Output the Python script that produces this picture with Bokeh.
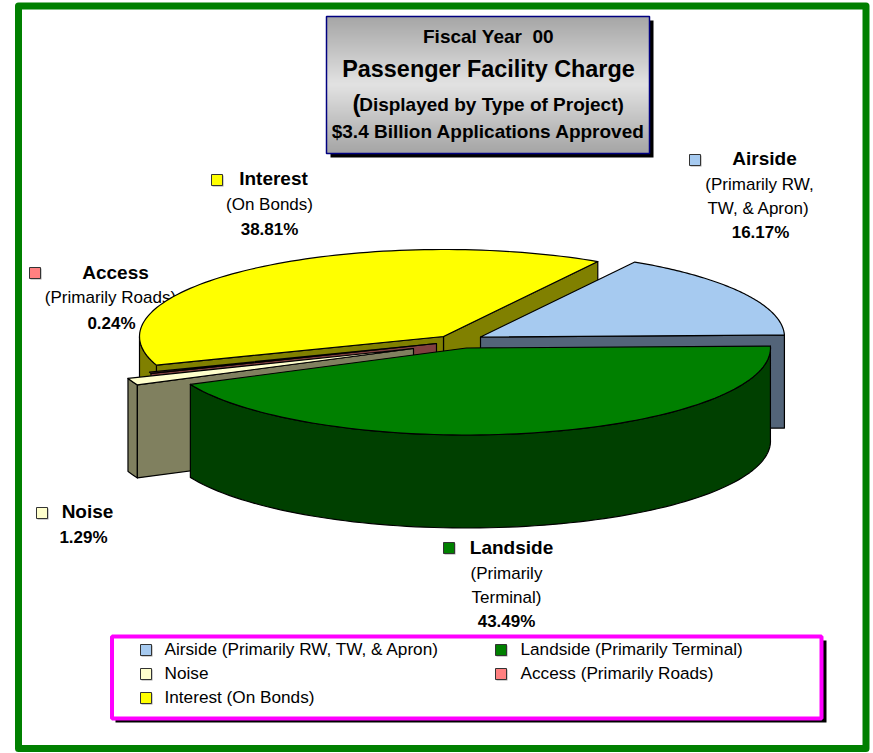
import math
from bokeh.plotting import figure
from bokeh.models import Range1d
from bokeh.core.properties import value
from bokeh.embed import file_html
from bokeh.resources import INLINE

# ---- data ----
categories = ["Airside", "Landside", "Noise", "Access", "Interest"]
notes = ["(Primarily RW, TW, & Apron)", "(Primarily Terminal)", "", "(Primarily Roads)", "(On Bonds)"]
shares = [16.17, 43.49, 1.29, 0.24, 38.81]
title_lines = ["Fiscal Year \u00a000", "Passenger Facility Charge",
               "Displayed by Type of Project)", "$3.4 Billion Applications Approved"]

# ---- style / layout ----
TOP = ["#A6CAF0", "#008000", "#FFFFCC", "#FF8080", "#FFFF00"]
WALL = ["#536479", "#004000", "#80805F", "#804040", "#808000"]
APEX = [(480, 336.5), (466, 347.5), (413, 348), (436, 343), (443, 336)]
RX, RY, DEPTH = 304, 87, 93
FIRST_ANGLE = 59.5
FONT = value("Liberation Sans")

p = figure(width=873, height=753, x_range=Range1d(0, 873), y_range=Range1d(753, 0),
           output_backend="svg", toolbar_location=None, min_border=0,
           background_fill_color="white",
           border_fill_color="white", outline_line_color=None)
p.axis.visible = False
p.xgrid.visible = False
p.ygrid.visible = False


def txt(x, y, s, size, bold=False, align="center", color="black"):
    p.text([x], [y - 0.8], text=[s], text_font=FONT, text_font_size=f"{size}px",
           text_font_style="bold" if bold else "normal", text_align=align,
           text_baseline="middle", text_color=color)


def box(l, t, r, b, fill, line=None, lw=1):
    p.quad(left=[l], right=[r], top=[t], bottom=[b], fill_color=fill,
           line_color=line, line_width=lw)


# outer frame
p.patch([18, 865.5, 865.5, 18], [5.5, 5.5, 748, 748], fill_color=None,
        line_color="#008000", line_width=7, line_join="round")


def key(l, t, i):
    box(l + 1, t + 1, l + 12, t + 12, "#a0a0a0")
    box(l, t, l + 11, t + 11, TOP[i], "#333333", 1)


pct = [f"{v:.2f}%" for v in shares]

# callout labels (drawn under the pie)
key(689, 154, 0)
txt(764, 159, categories[0], 19, True)
txt(759, 185, "(Primarily RW,", 17)
txt(758, 209, "TW, & Apron)", 17)
txt(760, 233, pct[0], 17, True)

key(443, 542, 1)
txt(511, 548, categories[1], 19, True)
txt(506, 574, "(Primarily", 17)
txt(506, 598, "Terminal)", 17)
txt(506, 622, pct[1], 17, True)

key(36, 507, 2)
txt(87, 512, categories[2], 19, True)
txt(83, 538, pct[2], 17, True)

key(29, 267, 3)
txt(115, 273, categories[3], 19, True)
txt(110, 298, notes[3], 17)
txt(111, 324, pct[3], 17, True)

key(211, 174, 4)
txt(273, 179, categories[4], 19, True)
txt(269, 205, notes[4], 17)
txt(269, 230, pct[4], 17, True)

# ---- 3-D pie, angles derived from the shares (clockwise) ----
starts, ends = [], []
a = FIRST_ANGLE
for v in shares:
    starts.append(a)
    a -= v * 3.6
    ends.append(a)


def pt(i, ang, drop=0):
    cx, cy = APEX[i]
    r = math.radians(ang)
    return cx + RX * math.cos(r), cy - RY * math.sin(r) + drop


def arc(i, a0, a1, drop=0, n=90):
    return [pt(i, a0 + (a1 - a0) * k / n, drop) for k in range(n + 1)]


def poly(points, fill):
    p.patch([q[0] for q in points], [q[1] for q in points], fill_color=fill,
            line_color="black", line_width=1.2, line_join="round")


def cut_face(i, ang):
    cx, cy = APEX[i]
    e = pt(i, ang)
    poly([(cx, cy), e, (e[0], e[1] + DEPTH), (cx, cy + DEPTH)], WALL[i])


def wall(i, a0, a1):
    poly(arc(i, a0, a1) + arc(i, a1, a0, DEPTH), WALL[i])


def top(i):
    poly([APEX[i]] + arc(i, starts[i], ends[i]), TOP[i])


# Interest
cut_face(4, ends[4] + 360)
cut_face(4, starts[4])
wall(4, starts[4], -180)
top(4)
# Airside
cut_face(0, ends[0])
top(0)
# Access
cut_face(3, starts[3])
top(3)
# Noise
wall(2, starts[2], ends[2])
cut_face(2, starts[2])
top(2)
# Landside
wall(1, starts[1], ends[1])
top(1)

# ---- title box ----
box(330, 20, 653, 157, "black")
n = 68
for k in range(n):
    f = abs(k / (n - 1) - 0.5) * 2
    g = int(round(226 - (226 - 166) * f))
    box(326, 16 + k * 2, 649, 16 + (k + 1) * 2 + 0.5, f"#{g:02x}{g:02x}{g:02x}")
p.quad(left=[326], right=[649], top=[16], bottom=[153], fill_color=None, line_color="#000080", line_width=1.5)
txt(488, 37, title_lines[0], 19, True)
txt(488, 69, title_lines[1], 23.4, True)
txt(356, 104, "(", 24, True)
txt(491, 105, title_lines[2], 19, True)
txt(488, 132, title_lines[3], 19, True)

# ---- legend ----
box(115, 640, 826, 722, "black")
p.quad(left=[111.5], right=[821], top=[636], bottom=[718], fill_color="white",
       line_color="#FF00FF", line_width=4)
legend_cells = [(140, 644, 164), (495, 644, 520), (140, 668, 164), (495, 668, 520), (140, 692, 164)]
for i, (kx, ky, tx) in enumerate(legend_cells):
    key(kx, ky, i)
    label = categories[i] + (" " + notes[i] if notes[i] else "")
    txt(tx, ky + 5.5, label, 17.2, False, "left")

open("out.html", "w").write(file_html(p, INLINE))
